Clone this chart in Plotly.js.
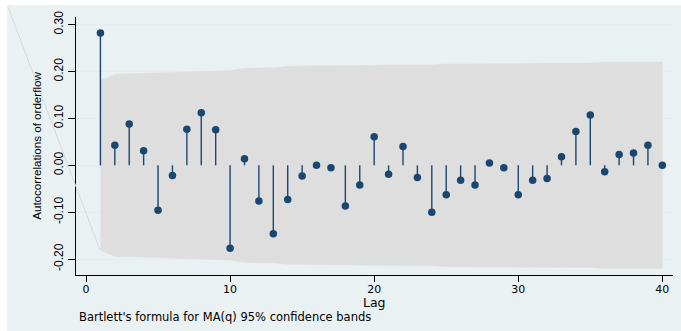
<!DOCTYPE html>
<html>
<head>
<meta charset="utf-8">
<script src="https://cdn.plot.ly/plotly-3.0.1.min.js"></script>
<style>
  html, body { margin: 0; padding: 0; background: #ffffff; }
  #chart { width: 681px; height: 331px; }
</style>
</head>
<body>
<div id="chart"></div>
<script>
// Sample autocorrelations of order flow, lags 1..40
const lags = [1, 2, 3, 4, 5, 6, 7, 8, 9, 10,
              11, 12, 13, 14, 15, 16, 17, 18, 19, 20,
              21, 22, 23, 24, 25, 26, 27, 28, 29, 30,
              31, 32, 33, 34, 35, 36, 37, 38, 39, 40];
const acf = [0.282, 0.043, 0.088, 0.031, -0.096, -0.022, 0.077, 0.112, 0.076, -0.177,
             0.014, -0.076, -0.146, -0.073, -0.023, 0.000, -0.005, -0.087, -0.042, 0.061,
             -0.019, 0.040, -0.026, -0.100, -0.063, -0.032, -0.042, 0.005, -0.005, -0.063,
             -0.032, -0.028, 0.018, 0.072, 0.107, -0.014, 0.023, 0.026, 0.043, 0.000];
// Half-width of the 95% Bartlett (MA(q)) confidence band at each lag
const bandHalf = [0.181, 0.194, 0.195, 0.196, 0.196, 0.198, 0.198, 0.199, 0.201, 0.202,
                  0.207, 0.207, 0.208, 0.211, 0.212, 0.212, 0.212, 0.212, 0.213, 0.213,
                  0.214, 0.214, 0.214, 0.214, 0.216, 0.216, 0.217, 0.217, 0.217, 0.217,
                  0.217, 0.218, 0.218, 0.218, 0.218, 0.220, 0.220, 0.220, 0.220, 0.220];
const yTickVals = [-0.2, -0.1, 0.0, 0.1, 0.2, 0.3];
const yTickText = ['-0.20', '-0.10', '0.00', '0.10', '0.20', '0.30'];
const xTickVals = [0, 10, 20, 30, 40];

const navy = '#1a476f';
const bandGrey = '#dedede';

// Confidence band as a closed polygon: upper edge forward, lower edge back
const bandX = lags.concat(lags.slice().reverse());
const bandY = bandHalf.concat(bandHalf.slice().reverse().map(v => -v));

// Spikes from zero to each autocorrelation, separated by gaps
const spikeX = [], spikeY = [];
lags.forEach((lag, i) => {
  spikeX.push(lag, lag, null);
  spikeY.push(0, acf[i], null);
});

const traces = [
  {
    x: bandX, y: bandY, type: 'scatter', mode: 'lines',
    fill: 'toself', fillcolor: bandGrey,
    line: { color: bandGrey, width: 0.5 },
    hoverinfo: 'skip', showlegend: false
  },
  {
    x: spikeX, y: spikeY, type: 'scatter', mode: 'lines',
    line: { color: navy, width: 1.4 },
    hoverinfo: 'skip', showlegend: false
  },
  {
    x: lags, y: acf, type: 'scatter', mode: 'markers',
    marker: { color: navy, size: 7.5, symbol: 'circle' },
    showlegend: false
  }
];

// Plot area spans pixels x 76..673, y 17..275 of a 681x331 canvas
const L = 76, R = 673, T = 17, B = 275, W = 681, H = 331;
const px = v => (v - L) / (R - L);
const py = v => (B - v) / (B - T);

const layout = {
  width: W, height: H,
  margin: { l: L, r: W - R, t: T, b: H - B, pad: 0 },
  paper_bgcolor: '#ffffff',
  plot_bgcolor: '#ffffff',
  showlegend: false,
  font: { family: 'Liberation Sans, Arial, sans-serif', color: '#000000' },
  xaxis: {
    range: [-0.694, 40.74],
    tickmode: 'array', tickvals: xTickVals,
    ticks: 'outside', ticklen: 6, tickwidth: 1, tickcolor: '#000000',
    ticklabelstandoff: -2,
    showline: true, linecolor: '#000000', linewidth: 1,
    showgrid: false, zeroline: false,
    tickfont: { family: 'DejaVu Sans, sans-serif', size: 11, color: '#000000' }
  },
  yaxis: {
    range: [-0.2339, 0.3162],
    tickmode: 'array', tickvals: yTickVals, ticktext: yTickText,
    tickangle: -90,
    ticks: 'outside', ticklen: 7, tickwidth: 1, tickcolor: '#000000',
    showline: true, linecolor: '#000000', linewidth: 1,
    showgrid: true, gridcolor: '#e3ecef', gridwidth: 1,
    zeroline: false,
    tickfont: { family: 'Liberation Sans, Arial, sans-serif', size: 12, color: '#000000' },
    title: { text: 'Autocorrelations of orderflow', standoff: 8,
             font: { family: 'Liberation Sans, Arial, sans-serif', size: 11.6, color: '#000000' } }
  },
  shapes: [
    // graph region background
    { type: 'rect', xref: 'paper', yref: 'paper', layer: 'below',
      x0: px(7), x1: px(W + 2), y0: py(5), y1: py(H + 2),
      fillcolor: '#eaf1f3', line: { width: 0 } },
    // faint guide running to the first lower band point
    { type: 'line', xref: 'paper', yref: 'paper', layer: 'above',
      x0: px(8), y0: py(7), x1: px(100), y1: py(250),
      line: { color: '#d9d9d9', width: 1 } }
  ],
  annotations: [
    // x-axis title, set close under the tick labels
    { xref: 'x', yref: 'paper', x: 20, y: py(302.5),
      xanchor: 'center', yanchor: 'middle', showarrow: false, borderpad: 0,
      text: 'Lag',
      font: { family: 'DejaVu Sans, sans-serif', size: 12.5, color: '#000000' } },
    { xref: 'paper', yref: 'paper', x: px(78), y: py(317),
      xanchor: 'left', yanchor: 'middle', showarrow: false, borderpad: 0,
      text: "Bartlett's formula for MA(q) 95% confidence bands",
      font: { family: 'DejaVu Sans, sans-serif', size: 11.5, color: '#000000' } }
  ]
};

Plotly.newPlot('chart', traces, layout, { displayModeBar: false, staticPlot: true });
</script>
</body>
</html>
